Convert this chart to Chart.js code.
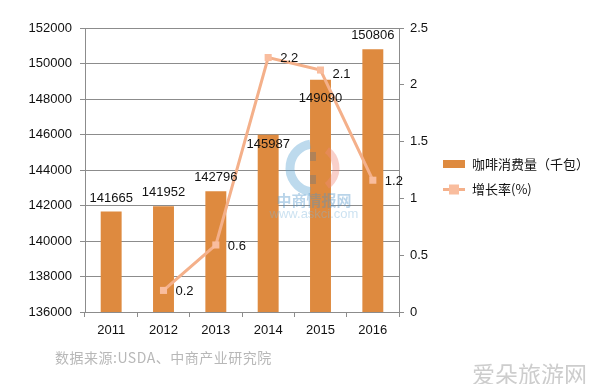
<!DOCTYPE html>
<html>
<head>
<meta charset="utf-8">
<script src="https://cdn.jsdelivr.net/npm/chart.js@4/dist/chart.umd.min.js"></script>
<style>
  body { margin: 0; background: #fff; }
  #wrap { position: relative; width: 602px; height: 384px; }
  #source { position: absolute; left: 55px; top: 347px; font: 14px "Noto Sans CJK SC", sans-serif; color: #b8b8b8; letter-spacing: 0.5px; }
  #mark { position: absolute; left: 472px; top: 356px; font: 23px "Noto Sans CJK SC", sans-serif; color: #cdcdcd; }
</style>
</head>
<body>
<div id="wrap">
  <canvas id="coffee_chart" width="602" height="384"></canvas>
  <div id="source">数据来源:USDA、中商产业研究院</div>
  <div id="mark">爱朵旅游网</div>
</div>
<script>
// consumption (thousand bags) and growth rate
const years = ['2011', '2012', '2013', '2014', '2015', '2016'];
const consumption = [141665, 141952, 142796, 145987, 149090, 150806];
const growthRate = [null, 0.19, 0.59, 2.24, 2.13, 1.16];

const barName = '咖啡消费量（千包）';
const lineName = '增长率(%)';

const BAR_COLOR = '#DE8A3F';
const LINE_COLOR = '#F4B08A';
const POINT_COLOR = '#F9BD9E';
const GRID_COLOR = '#8c8c8c';
const FONT = '"Liberation Sans", Arial, sans-serif';

// value labels on bars and on the line points
const valueLabels = {
    id: 'valueLabels',
    afterDatasetsDraw(chart, args, opts) {
        const ctx = chart.ctx;
        ctx.save();
        ctx.font = '13px ' + FONT;
        ctx.fillStyle = '#111';
        ctx.textBaseline = 'middle';
        chart.getDatasetMeta(0).data.forEach(function (bar, i) {
            ctx.textAlign = 'center';
            ctx.fillText(String(consumption[i]), bar.x, bar.y + opts.barShift[i]);
        });
        chart.getDatasetMeta(1).data.forEach(function (pt, i) {
            if (growthRate[i] === null) return;
            ctx.textAlign = 'left';
            ctx.fillText(growthRate[i].toFixed(1), pt.x + 12, pt.y + (i === 4 ? 4 : 1));
        });
        ctx.restore();
    }
};

// legend on the right, plus the faint logo watermark in the middle
const sideLegend = {
    id: 'sideLegend',
    afterDraw(chart) {
        const ctx = chart.ctx;
        ctx.save();
        ctx.fillStyle = BAR_COLOR;
        ctx.fillRect(443, 160, 22, 8);
        ctx.strokeStyle = LINE_COLOR;
        ctx.lineWidth = 3;
        ctx.beginPath();
        ctx.moveTo(443, 189.5);
        ctx.lineTo(465, 189.5);
        ctx.stroke();
        ctx.fillStyle = POINT_COLOR;
        ctx.fillRect(449, 184.5, 10, 10);
        ctx.fillStyle = '#111';
        ctx.font = '13px "Noto Sans CJK SC", sans-serif';
        ctx.textBaseline = 'middle';
        ctx.textAlign = 'left';
        ctx.fillText(barName, 472, 164);
        ctx.fillText(lineName, 472, 189);

        // watermark
        ctx.globalAlpha = 0.4;
        ctx.strokeStyle = '#5aa3d3';
        ctx.lineWidth = 9;
        ctx.beginPath();
        ctx.arc(314, 168, 24, Math.PI * 0.55, Math.PI * 1.45);
        ctx.stroke();
        ctx.strokeStyle = '#f08a7a';
        ctx.lineWidth = 7;
        ctx.beginPath();
        ctx.arc(314, 168, 22, -Math.PI * 0.3, Math.PI * 0.3);
        ctx.stroke();
        ctx.fillStyle = '#6b7680';
        ctx.fillRect(310, 152, 6, 9);
        ctx.fillRect(310, 175, 6, 9);
        ctx.fillStyle = '#4f93c8';
        ctx.font = 'bold 15px "Noto Sans CJK SC", sans-serif';
        ctx.textAlign = 'center';
        ctx.fillText('中商情报网', 314, 200);
        ctx.fillStyle = '#7fb6dc';
        ctx.font = '13px ' + FONT;
        ctx.fillText('www.askci.com', 314, 214);
        ctx.restore();
    }
};

const ctx = document.getElementById('coffee_chart').getContext('2d');
new Chart(ctx, {
    type: 'bar',
    data: {
        labels: years,
        datasets: [
            {
                type: 'bar',
                label: barName,
                data: consumption,
                backgroundColor: BAR_COLOR,
                barPercentage: 0.8,
                categoryPercentage: 0.5,
                yAxisID: 'y',
                order: 2
            },
            {
                type: 'line',
                label: lineName,
                data: growthRate,
                borderColor: LINE_COLOR,
                borderWidth: 3,
                pointStyle: 'rect',
                pointRadius: 5,
                pointBackgroundColor: POINT_COLOR,
                pointBorderWidth: 0,
                tension: 0,
                yAxisID: 'y1',
                order: 1
            }
        ]
    },
    options: {
        responsive: false,
        animation: false,
        layout: { padding: { left: 0, right: 153, top: 28, bottom: 42 } },
        plugins: {
            legend: { display: false },
            tooltip: { enabled: false },
            valueLabels: { barShift: [-13, -14, -14, 10, 19, -14] }
        },
        scales: {
            x: {
                grid: { display: true, drawOnChartArea: false, drawTicks: true, tickLength: 5, color: GRID_COLOR, offset: true },
                border: { display: true, color: GRID_COLOR },
                ticks: { color: '#111', font: { size: 13, family: FONT }, padding: 6 },
                afterFit(scale) { scale.height = 30; }
            },
            y: {
                position: 'left',
                min: 136000,
                max: 152000,
                grid: { color: GRID_COLOR, tickLength: 5 },
                border: { display: true, color: GRID_COLOR },
                ticks: {
                    stepSize: 2000, color: '#111', font: { size: 13, family: FONT }, padding: 8,
                    callback: function (v) { return String(v); }
                },
                afterFit(scale) { scale.width = 85; }
            },
            y1: {
                position: 'right',
                min: 0,
                max: 2.5,
                grid: { drawOnChartArea: false, tickLength: 5, color: GRID_COLOR },
                border: { display: true, color: GRID_COLOR },
                ticks: {
                    stepSize: 0.5, color: '#111', font: { size: 13, family: FONT }, padding: 6,
                    callback: function (v) { return String(v); }
                },
                afterFit(scale) { scale.width = 50; }
            }
        }
    },
    plugins: [valueLabels, sideLegend]
});
</script>
</body>
</html>
